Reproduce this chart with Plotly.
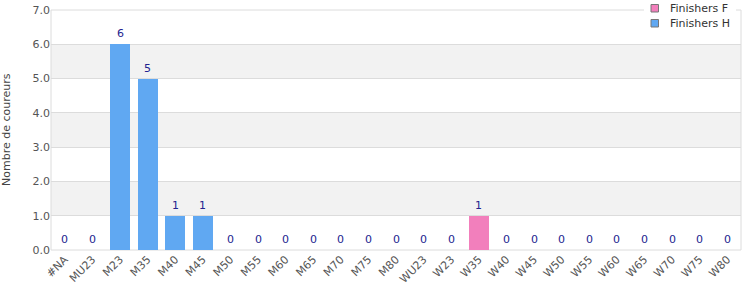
import plotly.graph_objects as go

categories = ["#NA", "MU23", "M23", "M35", "M40", "M45", "M50", "M55", "M60", "M65",
              "M70", "M75", "M80", "WU23", "W23", "W35", "W40", "W45", "W50", "W55",
              "W60", "W65", "W70", "W75", "W80"]
finishers_h = [0, 0, 6, 5, 1, 1, 0, 0, 0, 0, 0, 0, 0, 0, 0, 0, 0, 0, 0, 0, 0, 0, 0, 0, 0]
finishers_f = [0, 0, 0, 0, 0, 0, 0, 0, 0, 0, 0, 0, 0, 0, 0, 1, 0, 0, 0, 0, 0, 0, 0, 0, 0]
totals = [h + f for h, f in zip(finishers_h, finishers_f)]
legend_names = ["Finishers F", "Finishers H"]

blue = "#60a8f2"
pink = "#f27fbc"

L, R, T, B, W, H = 51, 9, 10, 50, 750, 300
PW, PH = W - L - R, H - T - B


def px(x):
    return (x - L) / PW


def py(y):
    return (H - B - y) / PH


fig = go.Figure()
fig.add_trace(go.Bar(x=categories, y=finishers_h, marker=dict(color=blue, line=dict(width=0)),
                     showlegend=False, hoverinfo="x+y"))
fig.add_trace(go.Bar(x=categories, y=finishers_f, marker=dict(color=pink, line=dict(width=0)),
                     showlegend=False, hoverinfo="x+y"))

annotations = []
for c, t in zip(categories, totals):
    annotations.append(dict(x=c, y=t, xref="x", yref="y", text=str(t), showarrow=False,
                            xanchor="center", yanchor="bottom", yshift=2,
                            font=dict(color="#23238f", size=11, family="DejaVu Sans")))

shapes = []
for lo in [1, 3, 5]:
    shapes.append(dict(type="rect", xref="paper", yref="y", x0=0, x1=1, y0=lo, y1=lo + 1,
                       fillcolor="#f2f2f2", line=dict(width=0), layer="below"))
shapes.append(dict(type="rect", xref="paper", yref="paper", x0=0, x1=1, y0=0, y1=1,
                   fillcolor="rgba(0,0,0,0)", line=dict(color="#dcdcdc", width=1), layer="below"))
# manual legend: white backdrop breaking the top border
shapes.append(dict(type="rect", xref="paper", yref="paper", x0=px(644), x1=px(736),
                   y0=py(30), y1=py(0), fillcolor="white", line=dict(width=0), layer="above"))
for i, (name, col) in enumerate(zip(legend_names, [pink, blue])):
    cy = 8 + 15 * i
    shapes.append(dict(type="rect", xref="paper", yref="paper", x0=px(651), x1=px(658.5),
                       y0=py(cy + 4), y1=py(cy - 3.5), fillcolor=col,
                       line=dict(color="#777", width=1), layer="above"))
    annotations.append(dict(xref="paper", yref="paper", x=px(668), y=py(cy), xanchor="left",
                            yanchor="middle", text=name, showarrow=False,
                            font=dict(size=11, color="#333", family="DejaVu Sans")))
# y axis title
annotations.append(dict(xref="paper", yref="paper", x=px(6), y=py(130), xanchor="center",
                        yanchor="middle", text="Nombre de coureurs", textangle=-90,
                        showarrow=False, font=dict(size=11, color="#444", family="DejaVu Sans")))

fig.update_layout(
    width=W, height=H,
    margin=dict(l=L, r=R, t=T, b=B),
    barmode="stack", bargap=0.27,
    plot_bgcolor="white", paper_bgcolor="white",
    font=dict(family="DejaVu Sans", size=11, color="#555"),
    shapes=shapes, annotations=annotations,
    showlegend=False,
    xaxis=dict(tickangle=-45, tickfont=dict(size=11, color="#555"), showgrid=False,
               showline=False, ticks="", range=[-0.5, len(categories) - 0.5], automargin=False),
    yaxis=dict(range=[0, 7], dtick=1, tickformat=".1f", gridcolor="#dcdcdc", gridwidth=1,
               zeroline=False, showline=False, ticks="", tickfont=dict(size=11, color="#555"),
               automargin=False),
)

fig.write_html("out.html")
